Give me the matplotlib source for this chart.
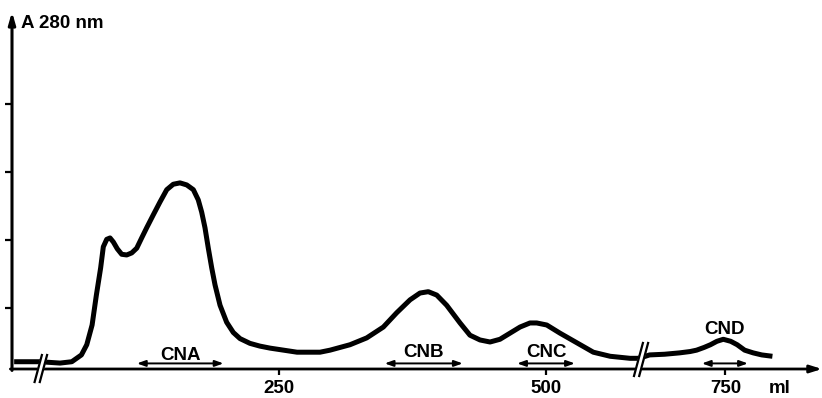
import numpy as np
import matplotlib.pyplot as plt

plt.rcParams['font.family'] = ['Liberation Sans', 'DejaVu Sans']
plt.rcParams['font.weight'] = 'bold'

# elution volume (ml) and absorbance at 280 nm
volume_ml = [2, 26, 45, 56, 65, 70, 75, 79, 83, 85.5, 88.7, 91.8, 94.9, 98.6,
             102.7, 107.4, 112.1, 116.8, 121.4, 126.1, 132.3, 138.6, 144.9, 151,
             157.3, 163.6, 169.8, 174.4, 177.6, 180.7, 183.8, 187, 190.1, 194.8,
             201, 207.2, 213.5, 222.8, 232, 241.6, 266.9, 288.4, 297.8, 316.5,
             332.1, 347.7, 360.2, 372.7, 382, 389.8, 397.7, 407, 419.5, 428.8,
             438.2, 447.6, 456.9, 466.3, 475.7, 485, 491.3, 500.7, 513.1, 528.7,
             544.3, 560.1, 578.7, 586,
             673, 679, 693, 707, 717, 723, 730, 736, 742, 748, 755, 761, 768,
             776, 784, 794]
absorbance = [0.21, 0.21, 0.19, 0.21, 0.31, 0.46, 0.75, 1.19, 1.59, 1.90, 2.01,
              2.03, 1.97, 1.87, 1.79, 1.78, 1.81, 1.88, 2.03, 2.18, 2.37, 2.56,
              2.74, 2.82, 2.84, 2.81, 2.74, 2.59, 2.41, 2.18, 1.88, 1.59, 1.34,
              1.04, 0.79, 0.64, 0.55, 0.48, 0.44, 0.41, 0.35, 0.35, 0.38, 0.46,
              0.56, 0.72, 0.93, 1.12, 1.22, 1.24, 1.19, 1.04, 0.78, 0.60, 0.53,
              0.50, 0.54, 0.63, 0.72, 0.78, 0.78, 0.75, 0.63, 0.49, 0.35, 0.29,
              0.26, 0.26,
              0.28, 0.31, 0.32, 0.34, 0.36, 0.38, 0.42, 0.46, 0.51, 0.54, 0.51,
              0.46, 0.38, 0.34, 0.31, 0.29]

# pooled fractions
fractions = ['CNA', 'CNB', 'CNC', 'CND']
frac_start = [117, 349, 473, 728]
frac_end = [198, 422, 527, 771]

xtick_ml = [250, 500, 750]

# axis break: volumes past BREAK_ML are shifted left by GAP
BREAK_ML = 600
GAP = 82

PX_X = 1.068   # pixels per ml
PX_Y = 68.0    # pixels per absorbance unit


def to_axis(v):
    v = np.asarray(v, dtype=float)
    return np.where(v > BREAK_ML, v - GAP, v)


def draw_break(ax, x0, y0, half_h):
    lean = 0.27 * half_h
    gap = 2.6
    ys = y0 + np.array([-half_h, half_h]) / PX_Y
    xl = x0 + (np.array([-lean, lean]) - gap) / PX_X
    xr = x0 + (np.array([-lean, lean]) + gap) / PX_X
    ax.fill([xl[0], xl[1], xr[1], xr[0]], [ys[0], ys[1], ys[1], ys[0]],
            color='white', zorder=5, clip_on=False)
    ax.plot(xl, ys, color='black', lw=1.6, zorder=6, clip_on=False)
    ax.plot(xr, ys, color='black', lw=1.6, zorder=6, clip_on=False)


fig = plt.figure(figsize=(8.22, 3.98), dpi=100)
ax = fig.add_axes([12 / 822, 29 / 398, 810 / 822, 359 / 398])
ax.set_xlim(0, 810 / PX_X)
ax.set_ylim(7 / PX_Y, 366 / PX_Y)

for s in ax.spines.values():
    s.set_visible(False)

# axes with arrow heads
ax.annotate('', xy=(1.0, 0), xytext=(-0.002, 0), xycoords='axes fraction',
            arrowprops=dict(arrowstyle='-|>,head_length=0.7,head_width=0.22',
                            lw=2, color='black', shrinkA=0, shrinkB=0), zorder=3)
ax.annotate('', xy=(0, 0.995), xytext=(0, -0.004), xycoords='axes fraction',
            arrowprops=dict(arrowstyle='-|>,head_length=0.7,head_width=0.2',
                            lw=2.2, color='black', shrinkA=0, shrinkB=0), zorder=3)

ax.plot(to_axis(volume_ml), absorbance, color='black', lw=3.6,
        solid_joinstyle='round', solid_capstyle='butt', zorder=2)

ax.set_yticks([1, 2, 3, 4])
ax.set_yticklabels([])
ax.tick_params(axis='y', direction='out', length=5, width=1.6)
ax.set_xticks(to_axis(xtick_ml))
ax.set_xticklabels([str(v) for v in xtick_ml])
ax.tick_params(axis='x', direction='out', length=4, width=1.6, pad=4,
               labelsize=13.5)

# fraction arrows and labels
label_y = [0.235, 0.28, 0.28, 0.62]
for name, a, b, ly in zip(fractions, frac_start, frac_end, label_y):
    xa, xb = to_axis([a, b])
    ax.annotate('', xy=(xb, 0.185), xytext=(xa, 0.185),
                arrowprops=dict(arrowstyle='<|-|>,head_length=0.5,head_width=0.18',
                                lw=1.4, color='black', shrinkA=0, shrinkB=0))
    ax.text((xa + xb) / 2, ly, name, ha='center', va='baseline',
            fontsize=13.5, fontweight='bold')

ax.text(8.4, 5.12, 'A 280 nm', ha='left', va='baseline',
        fontsize=13.5, fontweight='bold', clip_on=False)
ax.text(719, -0.25, 'ml', ha='center', va='baseline', fontsize=13.5,
        fontweight='bold', clip_on=False)

draw_break(ax, 27, 0.11, 13.5)
draw_break(ax, 589, 0.243, 16.5)

fig.savefig('out.png', dpi=100)
